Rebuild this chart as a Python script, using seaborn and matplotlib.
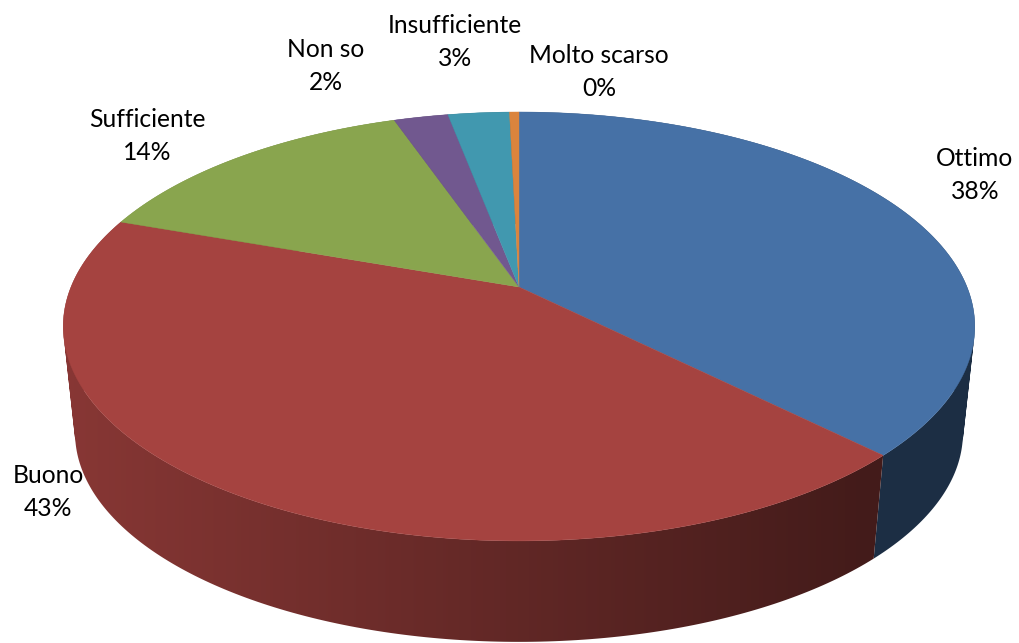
import numpy as np
import seaborn as sns
import matplotlib.pyplot as plt
from matplotlib.path import Path
from matplotlib.patches import PathPatch

categories = ['Ottimo', 'Buono', 'Sufficiente', 'Non so', 'Insufficiente', 'Molto scarso']
values = [37.5, 42.9, 14.3, 2.3, 2.6, 0.4]
colors = ['#4671A6', '#A54340', '#89A54E', '#71588F', '#4198AF', '#DB843D']
label_pos = [(975, 175), (48, 492), (147, 136), (326, 66), (455, 42), (599, 72)]

W, H = 1019, 643
CX, CY = 519, 287     # where the slices meet on screen
PERSP = 0.184         # perspective of the tilted disc
KX, KY = 448, -154.4
SCALE = 0.974         # lower rim is a bit smaller
Y0 = 4423


def top_rim(theta):
    u, v = np.sin(theta), np.cos(theta)
    d = 1 + PERSP * v
    return CX + KX * u / d, (CY + KY * v) / d


def low_rim(theta):
    x, y = top_rim(theta)
    return CX + SCALE * (x - CX), Y0 + SCALE * (y - Y0)


def wall_path(t):
    # one quad per step, all wound the same way, so overlaps do not cancel
    verts, codes = [], []
    for a, b in zip(t[:-1], t[1:]):
        xt, yt = top_rim(np.array([a, b]))
        xl, yl = low_rim(np.array([b, a]))
        q = np.column_stack([np.r_[xt, xl], np.r_[yt, yl]])
        area = np.sum(q[:, 0] * np.roll(q[:, 1], -1) - np.roll(q[:, 0], -1) * q[:, 1])
        if area < 0:
            q = q[::-1]
        verts.extend(q.tolist() + [q[0].tolist()])
        codes.extend([Path.MOVETO, Path.LINETO, Path.LINETO, Path.LINETO, Path.CLOSEPOLY])
    return Path(verts, codes)


sns.set_theme(style='white')
plt.rcParams['font.family'] = ['Lato', 'DejaVu Sans']
palette = sns.color_palette(colors)

fig = plt.figure(figsize=(W / 100, H / 100), dpi=100)
ax = fig.add_axes([0, 0, 1, 1])

edges = np.deg2rad(np.concatenate([[0], np.cumsum(values)]) * 3.6)

# side wall: a horizontal gradient clipped to each slice's rim
shade = np.interp(np.arange(W), [70, 860], [0.82, 0.41])
for i, col in enumerate(palette):
    t = np.linspace(edges[i], edges[i + 1], 200)
    patch = PathPatch(wall_path(t), transform=ax.transData, fc='none', ec='none')
    ax.add_patch(patch)
    grad = shade[None, :, None] * np.array(col)[None, None, :]
    im = ax.imshow(grad, extent=(0, W, H, 0), aspect='auto', interpolation='bilinear')
    im.set_clip_path(patch)

# top face
for i, col in enumerate(palette):
    t = np.linspace(edges[i], edges[i + 1], 300)
    x, y = top_rim(t)
    ax.fill(np.r_[CX, x], np.r_[CY, y], color=col, lw=0.3)

for name, val, (px, py) in zip(categories, values, label_pos):
    ax.text(px, py, f'{name}\n{round(val)}%', ha='center', va='center',
            fontsize=17.7, color='black', linespacing=1.48)

ax.set_xlim(0, W)
ax.set_ylim(H, 0)
ax.axis('off')

fig.savefig('out.png', dpi=100)
